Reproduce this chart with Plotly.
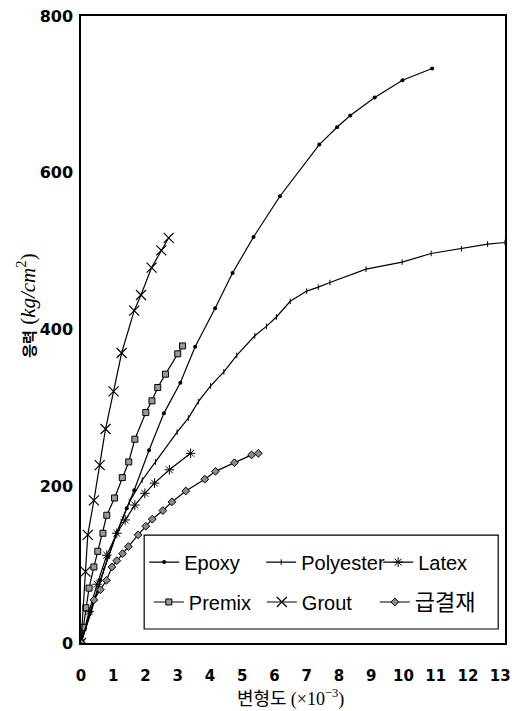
import plotly.graph_objects as go

# ---- data (strain x1e-3, stress kg/cm2) ----
epoxy_x = [0, 0.3, 0.6, 0.85, 1.11, 1.42, 1.65, 2.11, 2.57, 3.08, 3.54, 4.16, 4.70, 5.35, 6.17, 7.39, 7.94, 8.35, 9.11, 9.97, 10.89]
epoxy_y = [0, 40, 80, 110, 140, 172, 195, 246, 293, 332, 378, 427, 472, 518, 570, 636, 658, 673, 696, 718, 733]

poly_x = [0, 0.3, 0.7, 1.1, 1.5, 1.9, 2.31, 2.98, 3.33, 3.64, 4.02, 4.43, 4.83, 5.39, 5.75, 6.06, 6.49, 7.0, 7.36, 7.72, 8.84, 9.96, 10.86, 11.8, 12.61, 13.15]
poly_y = [0, 38, 92, 140, 180, 208, 231, 269, 287, 308, 328, 346, 367, 392, 404, 416, 436, 449, 454, 460, 477, 486, 497, 503, 509, 511]

latex_x = [0, 0.25, 0.5, 0.8, 1.11, 1.37, 1.67, 1.98, 2.28, 2.74, 3.40]
latex_y = [0, 40, 75, 112, 140, 157, 176, 191, 204, 221, 242]

premix_x = [0, 0.07, 0.15, 0.25, 0.40, 0.52, 0.68, 0.80, 1.04, 1.28, 1.48, 1.67, 2.01, 2.20, 2.38, 2.62, 3.00, 3.15]
premix_y = [0, 20, 45, 70, 97, 117, 140, 163, 185, 211, 231, 260, 294, 309, 326, 343, 369, 379]

grout_x = [0, 0.14, 0.21, 0.40, 0.58, 0.76, 1.01, 1.26, 1.65, 1.86, 2.19, 2.49, 2.72]
grout_y = [0, 91, 138, 182, 227, 273, 321, 370, 424, 444, 479, 501, 517]

quick_x = [0, 0.40, 0.60, 0.79, 0.96, 1.11, 1.29, 1.47, 1.77, 2.01, 2.21, 2.54, 2.82, 3.25, 3.84, 4.17, 4.76, 5.29, 5.50]
quick_y = [0, 55, 68, 80, 97, 105, 114, 123, 138, 149, 158, 169, 180, 194, 209, 219, 230, 240, 242]

x_ticks = list(range(0, 14))
y_ticks = [0, 200, 400, 600, 800]

LINE = dict(color="black", width=1.2)
LEGFONT = "Liberation Sans, Arial, Noto Sans CJK KR"

fig = go.Figure()
fig.add_trace(go.Scatter(x=epoxy_x, y=epoxy_y, name="Epoxy", mode="lines+markers", line=LINE,
                         marker=dict(symbol="circle", size=4, color="black"), legend="legend"))
fig.add_trace(go.Scatter(x=poly_x, y=poly_y, name="Polyester", mode="lines+markers", line=LINE,
                         marker=dict(symbol="line-ns", size=4, line=dict(color="black", width=1)), legend="legend"))
fig.add_trace(go.Scatter(x=latex_x, y=latex_y, name="Latex", mode="lines+markers", line=LINE,
                         marker=dict(symbol="asterisk-open", size=8, line=dict(color="black", width=1)), legend="legend"))
fig.add_trace(go.Scatter(x=premix_x, y=premix_y, name="Premix", mode="lines+markers", line=LINE,
                         marker=dict(symbol="square", size=6, color="#9a9a9a", line=dict(color="black", width=1)), legend="legend2"))
fig.add_trace(go.Scatter(x=grout_x, y=grout_y, name="Grout", mode="lines+markers", line=LINE,
                         marker=dict(symbol="x-thin-open", size=10, line=dict(color="black", width=1.2)), legend="legend2"))
fig.add_trace(go.Scatter(x=quick_x, y=quick_y, name="<span style='font-size:22px'>급결재</span>", mode="lines+markers", line=LINE,
                         marker=dict(symbol="diamond", size=6, color="#8a8a8a", line=dict(color="black", width=1)), legend="legend2"))

fig.update_layout(
    width=512, height=711,
    margin=dict(l=81, r=1, t=16, b=68),
    paper_bgcolor="white", plot_bgcolor="white",
    showlegend=True,
    legend=dict(orientation="h", x=0.149, xanchor="left", y=0.129, yanchor="middle",
                entrywidth=72, entrywidthmode="pixels", bgcolor="rgba(0,0,0,0)",
                font=dict(family=LEGFONT, size=20, color="black")),
    legend2=dict(orientation="h", x=0.16, xanchor="left", y=0.0654, yanchor="middle",
                 entrywidth=68, entrywidthmode="pixels", bgcolor="rgba(0,0,0,0)",
                 font=dict(family=LEGFONT, size=20, color="black")),
    shapes=[dict(type="rect", xref="paper", yref="paper", x0=0.149, x1=0.984, y0=0.0223, y1=0.172,
                 line=dict(color="black", width=1.2), fillcolor="white", layer="above")],
    annotations=[
        dict(xref="paper", yref="paper", x=-0.128, y=0.5375, textangle=-90, showarrow=False,
             xanchor="center", yanchor="middle",
             text="<span style='font-family:Noto Sans CJK KR;font-weight:bold;font-size:15px'>응력</span> "
                  "<span style='font-family:Liberation Serif'>(<i>kg/cm</i><sup>2</sup>)</span>",
             font=dict(family="Liberation Serif, Noto Sans CJK KR", size=21, color="black")),
        dict(xref="paper", yref="paper", x=0.494, y=-0.0855, showarrow=False,
             xanchor="center", yanchor="middle",
             text="<span style='font-family:Noto Sans CJK KR'>변형도</span> "
                  "<span style='font-family:Liberation Serif'>(×10<sup>−3</sup>)</span>",
             font=dict(family="Noto Sans CJK KR, Liberation Serif", size=18, color="black")),
    ],
)

fig.update_xaxes(range=[0, 13.15], tickvals=x_ticks, ticktext=[str(v) for v in x_ticks],
                 showline=True, mirror=True, linecolor="black", linewidth=1.5,
                 showgrid=False, zeroline=False, ticks="", ticklabelstandoff=18,
                 ticklabeloverflow="allow",
                 tickfont=dict(family="DejaVu Sans", size=15, color="black", weight="bold"))
fig.update_yaxes(range=[0, 800], tickvals=y_ticks,
                 showline=True, mirror=True, linecolor="black", linewidth=1.5,
                 showgrid=False, zeroline=False, ticks="", ticklabelstandoff=3,
                 tickfont=dict(family="DejaVu Sans", size=16, color="black", weight="bold"))

fig.write_html("out.html", config={"displayModeBar": False},
               post_script="document.body.style.margin='0';document.body.style.padding='0';")
